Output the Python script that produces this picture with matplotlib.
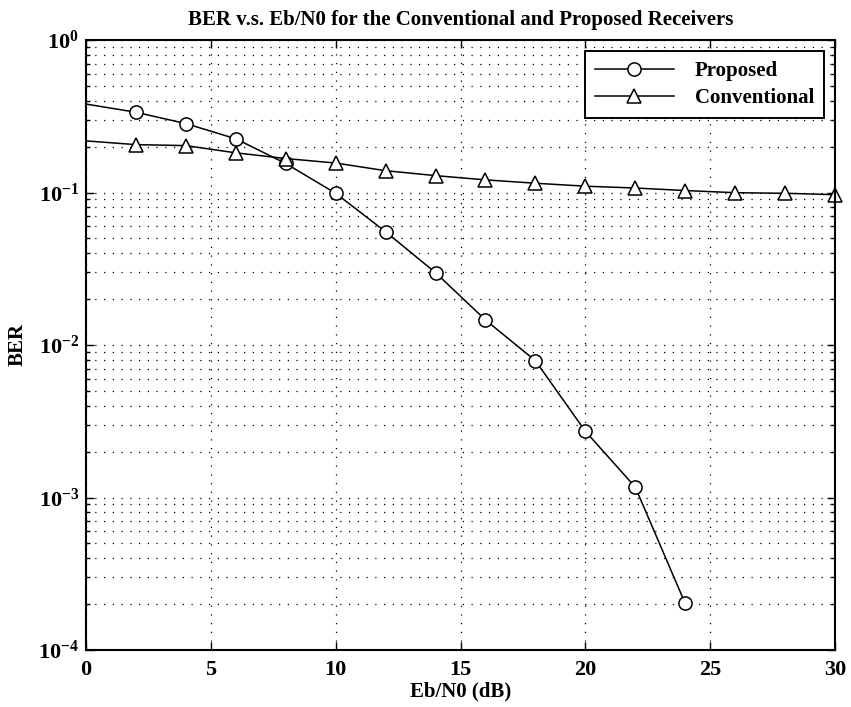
import numpy as np
import matplotlib
matplotlib.use("Agg")
import matplotlib.pyplot as plt
from matplotlib.ticker import FuncFormatter, LogLocator

plt.rcParams['font.family'] = ['Liberation Serif', 'DejaVu Serif']
plt.rcParams['font.weight'] = 'bold'
plt.rcParams['mathtext.fontset'] = 'custom'
plt.rcParams['mathtext.rm'] = 'Liberation Serif:bold'
plt.rcParams['mathtext.bf'] = 'Liberation Serif:bold'

# Eb/N0 (dB)
snr_proposed = [0, 2, 4, 6, 8, 10, 12, 14, 16, 18, 20, 22, 24]
ber_proposed = [0.380, 0.336, 0.283, 0.225, 0.155, 0.0988, 0.0553, 0.0298,
                0.0146, 0.00789, 0.00272, 0.00117, 0.000202]

snr_conventional = [0, 2, 4, 6, 8, 10, 12, 14, 16, 18, 20, 22, 24, 26, 28, 30]
ber_conventional = [0.218, 0.206, 0.203, 0.182, 0.167, 0.156, 0.139, 0.129,
                    0.121, 0.115, 0.110, 0.107, 0.103, 0.0997, 0.0988, 0.0968]

x_ticks = [0, 5, 10, 15, 20, 25, 30]

fig = plt.figure(figsize=(8.51, 7.07), dpi=100)
ax = fig.add_axes([86 / 851, 57 / 707, 749 / 851, 610 / 707])

ax.semilogy(snr_proposed, ber_proposed, '-', color='black', lw=1.1,
            marker='o', ms=9.5, mfc='white', mec='black', mew=1.1,
            markevery=list(range(1, len(snr_proposed))), label='Proposed')
ax.semilogy(snr_conventional, ber_conventional, '-', color='black', lw=1.1,
            marker='^', ms=10.5, mfc='white', mec='black', mew=1.1,
            markevery=list(range(1, len(snr_conventional))), label='Conventional',
            clip_on=False)

ax.set_xlim(0, 30)
ax.set_ylim(1e-4, 1)
ax.set_xticks(x_ticks)
ax.xaxis.set_major_formatter(FuncFormatter(lambda v, p: '%d' % v))
ax.yaxis.set_major_locator(LogLocator(base=10, numticks=10))
ax.yaxis.set_minor_locator(LogLocator(base=10, subs=np.arange(2, 10), numticks=10))
ax.yaxis.set_major_formatter(FuncFormatter(lambda v, p: r'$\mathbf{10^{%d}}$' % round(np.log10(v))))

dots = (0, (1, 6))
ax.grid(True, which='major', axis='both', linestyle=dots, color='black', lw=0.9)
ax.grid(True, which='minor', axis='y', linestyle=dots, color='black', lw=0.9)

ax.tick_params(which='both', direction='in', top=True, right=True, labelsize=16)
ax.tick_params(which='major', length=6, width=1)
ax.tick_params(which='minor', length=3, width=1)
ax.tick_params(axis='x', pad=7)
ax.tick_params(axis='y', pad=5)
for s in ax.spines.values():
    s.set_linewidth(1.5)

ax.set_title('BER v.s. Eb/N0 for the Conventional and Proposed Receivers',
             fontsize=15, fontweight='bold', pad=11)
ax.set_xlabel('Eb/N0 (dB)', fontsize=15, fontweight='bold', labelpad=1)
ax.set_ylabel('BER', fontsize=15, fontweight='bold', labelpad=8)

leg = ax.legend(loc='upper right', fontsize=15, frameon=True, fancybox=False,
                edgecolor='black', framealpha=1, handlelength=3.8,
                borderaxespad=0.55, borderpad=0.45, labelspacing=0.35,
                handletextpad=1.0)
leg.get_frame().set_linewidth(1.4)
for t in leg.get_texts():
    t.set_fontweight('bold')

fig.savefig('out.png', dpi=100)
